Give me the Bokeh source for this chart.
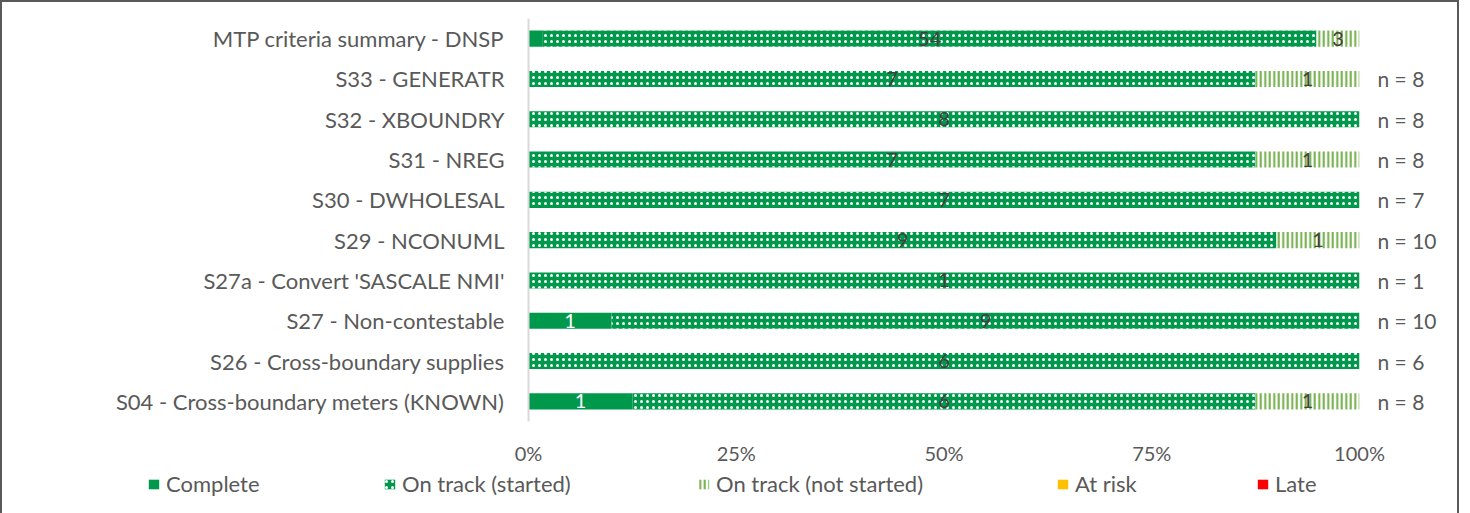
from bokeh.plotting import figure
from bokeh.models import (ColumnDataSource, FactorRange, Legend, LegendItem,
                          CategoricalAxis, NumeralTickFormatter, FixedTicker,
                          CustomJSTickFormatter, Column)
from bokeh.core.properties import value
from bokeh.embed import file_html
from bokeh.resources import INLINE

categories = ["MTP criteria summary - DNSP", "S33 - GENERATR", "S32 - XBOUNDRY",
              "S31 - NREG", "S30 - DWHOLESAL", "S29 - NCONUML",
              "S27a - Convert 'SASCALE NMI'", "S27 - Non-contestable",
              "S26 - Cross-boundary supplies", "S04 - Cross-boundary meters (KNOWN)"]
complete = [1, 0, 0, 0, 0, 0, 0, 1, 0, 1]
started = [54, 7, 8, 7, 7, 9, 1, 9, 6, 6]
not_started = [3, 1, 0, 1, 0, 1, 0, 0, 0, 1]
at_risk = [0, 0, 0, 0, 0, 0, 0, 0, 0, 0]
late = [0, 0, 0, 0, 0, 0, 0, 0, 0, 0]
n_labels = ["", "n = 8", "n = 8", "n = 8", "n = 7", "n = 10", "n = 1", "n = 10", "n = 6", "n = 8"]
tick_values = [0, 0.25, 0.5, 0.75, 1.0]
series_names = ["Complete", "On track (started)", "On track (not started)", "At risk", "Late"]

FONT = "Lato"
GREY = "#595959"
C_GREEN = "#00984A"
NS_GREEN = "#70AD47"

totals = [a + b + c + d + e for a, b, c, d, e in zip(complete, started, not_started, at_risk, late)]
def frac(arr):
    return [v / t for v, t in zip(arr, totals)]

series = [frac(complete), frac(started), frac(not_started), frac(at_risk), frac(late)]
lefts, rights = [], []
acc = [0.0] * len(categories)
for s in series:
    lefts.append(list(acc))
    acc = [a + b for a, b in zip(acc, s)]
    rights.append(list(acc))

styles = [
    dict(fill_color=C_GREEN, line_color=None),
    dict(fill_color=C_GREEN, line_color=None, hatch_pattern="dot", hatch_color="white",
         hatch_scale=6, hatch_weight=3),
    dict(fill_color="white", line_color=None, hatch_pattern="vertical_line",
         hatch_color=NS_GREEN, hatch_scale=4.5, hatch_weight=2),
    dict(fill_color="#FFC000", line_color=None),
    dict(fill_color="#FF0000", line_color=None),
]

factors = list(reversed(categories))
p = figure(width=1455, height=465, y_range=FactorRange(factors=factors, range_padding=0),
           x_range=(0, 1), output_backend="svg", toolbar_location=None,
           min_border_left=526, min_border_right=98, min_border_top=16, min_border_bottom=46)
p.frame_align = False

H = 0.4
for i in range(5):
    src = ColumnDataSource(dict(cat=categories, l=lefts[i], r=rights[i]))
    p.hbar(y="cat", left="l", right="r", height=H, source=src, **styles[i])

def labels(counts, lo_arr, hi_arr, color):
    xs, ys, ts = [], [], []
    for c, cnt, lo, hi in zip(categories, counts, lo_arr, hi_arr):
        if cnt > 0 and (hi - lo) > 0.03:
            xs.append((lo + hi) / 2)
            ys.append(c)
            ts.append(str(cnt))
    s = ColumnDataSource(dict(x=xs, y=ys, t=ts))
    p.text(x="x", y="y", text="t", source=s, text_align="center", text_baseline="middle",
           text_color=color, text_font=value(FONT), text_font_size="20px")

labels(complete, lefts[0], rights[0], "white")
labels(started, lefts[1], rights[1], "#404040")
labels(not_started, lefts[2], rights[2], "#404040")

p.xaxis.ticker = FixedTicker(ticks=tick_values)
p.xaxis.formatter = NumeralTickFormatter(format="0%")
p.xaxis.axis_line_color = None
p.xaxis.major_tick_line_color = None
p.xaxis.minor_tick_line_color = None
p.xaxis.major_label_text_font = FONT
p.xaxis.major_label_text_font_size = "20px"
p.xaxis.major_label_text_color = GREY
p.xaxis.major_label_standoff = 13

p.yaxis.axis_line_color = "#D9D9D9"
p.yaxis.axis_line_width = 2
p.yaxis.major_tick_line_color = None
p.yaxis.minor_tick_line_color = None
p.yaxis.major_label_text_font = FONT
p.yaxis.major_label_text_font_size = "22px"
p.yaxis.major_label_text_color = GREY
p.yaxis.major_label_standoff = 18

ax_r = CategoricalAxis()
ax_r.formatter = CustomJSTickFormatter(args=dict(cats=categories, ns=n_labels),
                                       code="const i = cats.indexOf(tick); return i >= 0 ? ns[i] : '';")
ax_r.axis_line_color = None
ax_r.major_tick_line_color = None
ax_r.minor_tick_line_color = None
ax_r.major_label_text_font = FONT
ax_r.major_label_text_font_size = "21px"
ax_r.major_label_text_color = GREY
ax_r.major_label_standoff = 12
p.add_layout(ax_r, "right")

p.xgrid.grid_line_color = None
p.ygrid.grid_line_color = None
p.outline_line_color = None

# legend strip
LH = 50
lf = figure(width=1455, height=LH, x_range=(0, 1455), y_range=(0, LH),
            output_backend="svg", toolbar_location=None,
            min_border_left=0, min_border_right=0, min_border_top=0, min_border_bottom=0)
lf.frame_align = False
lf.axis.visible = False
lf.xgrid.grid_line_color = None
lf.ygrid.grid_line_color = None
lf.outline_line_color = None
legend_x = [145, 381, 695, 1054, 1254]
for i, name in enumerate(series_names):
    dsrc = ColumnDataSource(dict(y=[-100], l=[0], r=[1]))
    rend = lf.hbar(y="y", left="l", right="r", height=1, source=dsrc, **styles[i])
    lg = Legend(items=[LegendItem(label=name, renderers=[rend])], location=(legend_x[i], LH - 18 - 12),
                orientation="horizontal", padding=0, margin=0, border_line_color=None,
                background_fill_alpha=0, glyph_width=13, glyph_height=12,
                label_text_font=FONT, label_text_font_size="22px", label_text_color=GREY,
                label_standoff=6, label_height=24)
    lf.add_layout(lg, "center")

layout = Column(children=[p, lf], spacing=0)
layout.styles = {"border": "2px solid #595959"}

open("out.html", "w").write(file_html(layout, INLINE))
